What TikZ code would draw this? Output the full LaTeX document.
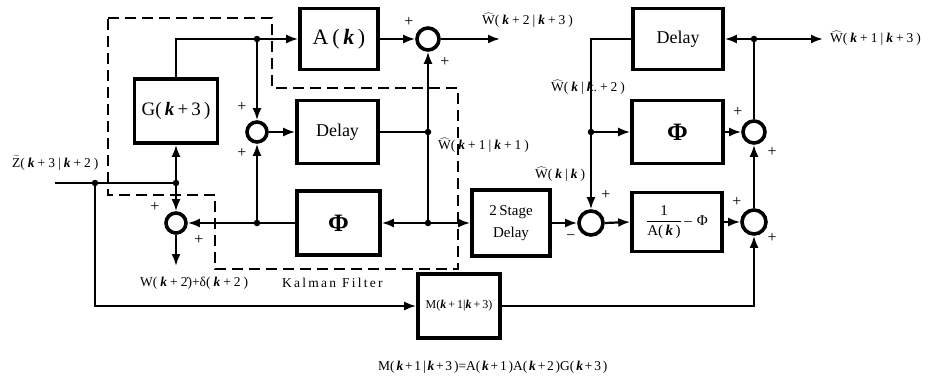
\documentclass[tikz,border=0pt]{standalone}
\usepackage{fontspec}
\setmainfont{Liberation Serif}
\usetikzlibrary{arrows.meta}
\newcommand\kx{\textbf{\textit{k}}}
\newcommand\gs{\hspace{3pt}}
\newcommand\gf{\hspace{1.8pt}}
\newcommand\Wh{$\widehat{\hbox{W}}$}
\begin{document}
\begin{tikzpicture}[x=1pt,y=-1pt,
  blk/.style={draw, line width=3.6pt, inner sep=0pt},
  sumc/.style={circle, draw, line width=3.6pt, minimum size=#1, inner sep=0pt},
  sumc/.default=22pt,
  ln/.style={line width=2.2pt},
  arr/.style={line width=2.2pt, -{Latex[length=12pt,width=9pt]}},
  dot/.style={circle, fill, inner sep=0pt, minimum size=6.5pt},
  kf/.style={line width=2.4pt, dash pattern=on 11pt off 6pt},
  lbl/.style={font=\fontsize{13.5}{15}\selectfont, inner sep=0pt},
  pm/.style={font=\fontsize{16}{18}\selectfont, inner sep=0pt}]
\useasboundingbox (0,0) rectangle (928,386);

% blocks
\node[blk, minimum width=78pt, minimum height=61pt] (A) at (339,39) {\fontsize{22}{24}\selectfont A\,(\,\kx\,)};
\node[blk, minimum width=81pt, minimum height=63pt] (D1) at (337.5,132) {\fontsize{18}{20}\selectfont Delay};
\node[blk, minimum width=83pt, minimum height=64pt] (G) at (176,111) {\fontsize{19}{21}\selectfont G(\,\kx\,+\,3\,)};
\node[blk, minimum width=83pt, minimum height=64pt] (Phi1) at (338.5,223) {\fontsize{25}{27}\selectfont\bfseries Φ};
\node[blk, minimum width=78pt, minimum height=66pt, align=center] (TSD) at (511,223) {\fontsize{15}{17}\selectfont 2\,Stage\\[7pt] \fontsize{15}{17}\selectfont Delay};
\node[blk, minimum width=82pt, minimum height=64pt] (M) at (459,306) {\fontsize{12}{14}\selectfont M(\kx\,+\,1|\kx\,+\,3)};
\node[blk, minimum width=90pt, minimum height=61pt] (D2) at (678,39) {\fontsize{18}{20}\selectfont Delay};
\node[blk, minimum width=91pt, minimum height=63pt] (Phi2) at (677.5,132) {\fontsize{25}{27}\selectfont\bfseries Φ};
\node[blk, minimum width=90pt, minimum height=59pt] (F) at (677,222) {\fontsize{15}{17}\selectfont $\displaystyle\frac{\hbox{1}}{\hbox{A(\,\kx\,)}}$\,--\,\,Φ};

% summing junctions
\node[sumc] (S1) at (428,39) {};
\node[sumc=20pt] (S2) at (257,132) {};
\node[sumc=20pt] (S3) at (176,223) {};
\node[sumc=24pt] (S4) at (591,223) {};
\node[sumc] (S5) at (754,132) {};
\node[sumc=24pt] (S6) at (754,222) {};

% junction points and free ends
\coordinate (zin) at (55,183);
\node[dot] (jz1) at (95,183) {};
\node[dot] (jz2) at (176,183) {};
\coordinate (wout) at (176,266);
\coordinate (gtop) at (176,39);
\node[dot] (jtop) at (257,39) {};
\node[dot] (jw) at (428,132) {};
\node[dot] (jphi) at (428,223) {};
\node[dot] (jl) at (257,223) {};
\coordinate (mb) at (95,306);
\coordinate (mr) at (754,306);
\node[dot] (jr) at (754,39) {};
\coordinate (out2) at (500,39);
\coordinate (out1) at (823,39);
\coordinate (dl) at (591,39);
\node[dot] (jm) at (591,132) {};

% Kalman filter boundary
\draw[kf] (108,18) -- (272,18) -- (272,88) -- (458,88) -- (458,269) -- (215,269) -- (215,195) -- (108,195) -- cycle;

% connectors
\draw[ln] (zin) -- (jz2);
\draw[arr] (jz2) -- (G.south);
\draw[arr] (jz2) -- (S3.north);
\draw[arr] (S3.south) -- (wout);
\draw[arr] (G.north) -- (gtop) -- (A.west);
\draw[arr] (jtop) -- (S2.north);
\draw[arr] (S2.east) -- (D1.west);
\draw[ln] (D1.east) -- (jw);
\draw[arr] (jphi) -- (S1.south);
\draw[arr] (A.east) -- (S1.west);
\draw[arr] (S1.east) -- (out2);
\draw[arr] (jphi) -- (Phi1.east);
\draw[arr] (jphi) -- (TSD.west);
\draw[ln] (Phi1.west) -- (jl);
\draw[arr] (jl) -- (S2.south);
\draw[arr] (jl) -- (S3.east);
\draw[arr] (jz1) -- (mb) -- (M.west);
\draw[arr] (M.east) -- (mr) -- (S6.south);
\draw[arr] (TSD.east) -- (S4.west);
\draw[arr] (S4.east) -- (F.west);
\draw[arr] (F.east) -- (S6.west);
\draw[arr] (S6.north) -- (S5.south);
\draw[ln] (S5.north) -- (jr);
\draw[arr] (jr) -- (D2.east);
\draw[arr] (jr) -- (out1);
\draw[ln] (D2.west) -- (dl) -- (jm);
\draw[arr] (jm) -- (Phi2.west);
\draw[arr] (jm) -- (S4.north);
\draw[arr] (Phi2.east) -- (S5.west);

% signs
\node[pm] (p1a) at (409,22) {+};
\node[pm] (p1b) at (445,62) {+};
\node[pm] (p2a) at (242,107) {+};
\node[pm] (p2b) at (242,153) {+};
\node[pm] (p3a) at (155,207) {+};
\node[pm] (p3b) at (199,240) {+};
\node[pm] (p4a) at (606,195) {+};
\node[pm] (p4b) at (571,238) {−};
\node[pm] (p5a) at (738,112) {+};
\node[pm] (p5b) at (772,152) {+};
\node[pm] (p6a) at (737,202) {+};
\node[pm] (p6b) at (772,238) {+};

% labels
\node[lbl, anchor=west] (l1) at (482,20) {\Wh(\gs\kx\gs+\gs2\gs|\gs\kx\gs+\gs3\gs)};
\node[lbl, anchor=west] (l2) at (830,38) {\Wh(\gs\kx\gs+\gs1\gs|\gs\kx\gs+\gs3\gs)};
\node[lbl, anchor=west] (l3) at (438,145) {\Wh(\gs\kx\gs+\gs1\gs|\gs\kx\gs+\gs1\gs)};
\node[lbl, anchor=west] (l4) at (551,87) {\Wh(\gs\kx\gs|\gs\kx.\gs+\gs2\gs)};
\node[lbl, anchor=west] (l5) at (535,174) {\Wh(\gs\kx\gs|\gs\kx\gs)};
\node[lbl, anchor=west] (l6) at (12,163) {$\widetilde{\hbox{Z}}$(\gs\kx\gs+\gs3\gs|\gs\kx\gs+\gs2\gs)};
\node[lbl, anchor=west] (l7) at (140,283) {W(\gs\kx\gs+\gs\.{2})+δ(\gs\kx\gs+\gs2\gs)};
\node[lbl, anchor=west] (l8) at (282,283) {K\,a\,l\,m\,a\,n\gs\gs F\,i\,l\,t\,e\,r};
\node[lbl, anchor=west] (l9) at (378,367) {M(\gf\kx\gf+\gf1\gf|\gf\kx\gf+\gf3\gf)=A(\gf\kx\gf+\gf1\gf)A(\gf\kx\gf+\gf2\gf)G(\gf\kx\gf+\gf3\gf)};
\end{tikzpicture}
\end{document}
